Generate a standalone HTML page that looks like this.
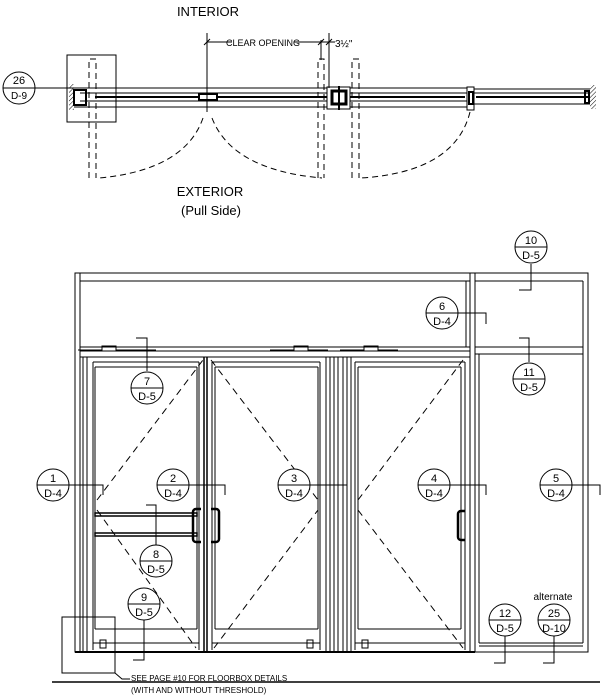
<!DOCTYPE html>
<html><head><meta charset="utf-8"><style>
html,body{margin:0;padding:0;background:#fff;}
svg{display:block;}
text{font-family:"Liberation Sans Narrow","Liberation Sans",sans-serif;fill:#000;}
</style></head><body>
<svg width="608" height="700" viewBox="0 0 608 700" xmlns="http://www.w3.org/2000/svg">
<defs>
<pattern id="h" width="3" height="3" patternUnits="userSpaceOnUse" patternTransform="rotate(45)"><line x1="0" y1="0" x2="0" y2="3" stroke="#000" stroke-width="1"/></pattern>
</defs>
<g stroke="#000" fill="none" stroke-width="1">
<!-- PLAN -->
<text x="208" y="16" font-size="13" text-anchor="middle" stroke="none">INTERIOR</text>
<rect x="67" y="55" width="49" height="67"/>
<circle cx="19" cy="88" r="16"/><line x1="3" y1="88" x2="35" y2="88"/><line x1="35" y1="88" x2="80" y2="88"/>
<text x="19" y="84" font-size="11" text-anchor="middle" stroke="none">26</text>
<text x="19" y="99" font-size="10" text-anchor="middle" stroke="none">D-9</text>
<rect x="69" y="84" width="5" height="26" fill="url(#h)" stroke="none"/>
<line x1="74" y1="88" x2="467" y2="88"/><line x1="74" y1="107" x2="467" y2="107"/>
<line x1="80" y1="93" x2="467" y2="93"/><line x1="80" y1="101" x2="467" y2="101"/>
<line x1="95" y1="97" x2="465" y2="97" stroke-width="2"/>
<rect x="74" y="90" width="12" height="15" stroke-width="2"/>
<rect x="199" y="94" width="18" height="6" fill="#fff" stroke-width="2"/>
<rect x="327" y="87" width="23" height="22" fill="#fff"/>
<rect x="332" y="91" width="14" height="13" stroke-width="3"/>
<line x1="339" y1="86" x2="339" y2="110" stroke-width="2"/>
<rect x="467" y="87" width="7" height="23" fill="#fff"/>
<rect x="469" y="92" width="4" height="12" stroke-width="2"/>
<line x1="474" y1="89" x2="590" y2="89"/><line x1="474" y1="104" x2="590" y2="104"/>
<line x1="474" y1="93" x2="590" y2="93"/>
<line x1="476" y1="97" x2="588" y2="97" stroke-width="2"/>
<rect x="585" y="91" width="4" height="12" stroke-width="2"/>
<rect x="590" y="85" width="6" height="24" fill="url(#h)" stroke="none"/>
<g stroke-dasharray="6,4">
<path d="M89 178 V59 H96 V178"/>
<path d="M318 178 V59 H324 V178"/>
<path d="M352 178 V59 H359 V178"/>
<path d="M203 118 Q185 170 99 178"/>
<path d="M212 118 Q232 170 322 178"/>
<path d="M470 112 Q455 172 361 178"/>
</g>
<line x1="207" y1="33" x2="207" y2="112"/>
<line x1="329" y1="33" x2="329" y2="88"/>
<line x1="321" y1="40" x2="321" y2="60"/>
<line x1="207" y1="42" x2="232" y2="42"/><line x1="294" y1="42" x2="321" y2="42"/>
<line x1="321" y1="42" x2="335" y2="42"/>
<line x1="204" y1="45" x2="210" y2="39"/><line x1="318" y1="45" x2="324" y2="39"/><line x1="326" y1="45" x2="332" y2="39"/>
<text x="263" y="46" font-size="9" text-anchor="middle" stroke="none">CLEAR OPENING</text>
<text x="335" y="47" font-size="10" stroke="none">3½"</text>
<text x="210" y="196" font-size="13" text-anchor="middle" stroke="none">EXTERIOR</text>
<text x="211" y="215" font-size="13" text-anchor="middle" stroke="none">(Pull Side)</text>

<!-- ELEVATION frame -->
<rect x="75" y="273" width="513" height="379"/>
<line x1="80" y1="273" x2="80" y2="652"/>
<line x1="80" y1="281" x2="470" y2="281"/>
<line x1="80" y1="347" x2="470" y2="347"/><line x1="80" y1="351" x2="470" y2="351"/>
<line x1="80" y1="357" x2="470" y2="357"/>
<line x1="470" y1="273" x2="470" y2="652"/><line x1="475" y1="273" x2="475" y2="652"/>
<line x1="475" y1="281" x2="583" y2="281"/>
<line x1="475" y1="347" x2="583" y2="347"/><line x1="475" y1="354" x2="583" y2="354"/>
<line x1="583" y1="281" x2="583" y2="643"/><line x1="479" y1="354" x2="479" y2="643"/>
<line x1="479" y1="643" x2="583" y2="643"/><line x1="479" y1="646" x2="583" y2="646"/>
<line x1="466" y1="281" x2="466" y2="347"/>
<line x1="75" y1="652" x2="475" y2="652" stroke-width="2"/>
<line x1="52" y1="682" x2="600" y2="682" stroke-width="1.5"/>
<path d="M78 350 h24 v-4 h14 v4 h40" /><path d="M270 350 h24 v-4 h14 v4 h20"/>
<path d="M340 350 h24 v-4 h14 v4 h20"/>
<!-- left pair -->
<line x1="83" y1="357" x2="83" y2="652"/><line x1="87" y1="357" x2="87" y2="652"/>
<line x1="93" y1="362" x2="93" y2="650"/><line x1="95" y1="367" x2="95" y2="629"/>
<line x1="95" y1="367" x2="197" y2="367"/><line x1="95" y1="629" x2="197" y2="629"/>
<line x1="93" y1="362" x2="199" y2="362"/>
<line x1="197" y1="367" x2="197" y2="629"/><line x1="199" y1="362" x2="199" y2="650"/>
<line x1="204" y1="357" x2="204" y2="652" stroke-width="1.5"/><line x1="207" y1="357" x2="207" y2="652" stroke-width="1.5"/>
<line x1="212" y1="362" x2="212" y2="650"/><line x1="215" y1="367" x2="215" y2="629"/>
<line x1="212" y1="362" x2="320" y2="362"/>
<line x1="215" y1="367" x2="318" y2="367"/><line x1="215" y1="629" x2="318" y2="629"/>
<line x1="318" y1="367" x2="318" y2="629"/><line x1="320" y1="362" x2="320" y2="650"/>
<line x1="326" y1="357" x2="326" y2="652"/><line x1="330" y1="357" x2="330" y2="652"/>
<line x1="334" y1="357" x2="334" y2="652"/><line x1="338" y1="357" x2="338" y2="652"/>
<line x1="343" y1="357" x2="343" y2="652"/><line x1="347" y1="357" x2="347" y2="652"/>
<line x1="351" y1="357" x2="351" y2="652"/>
<line x1="355" y1="362" x2="355" y2="650"/><line x1="358" y1="367" x2="358" y2="629"/>
<line x1="355" y1="362" x2="465" y2="362"/>
<line x1="358" y1="367" x2="461" y2="367"/><line x1="358" y1="629" x2="461" y2="629"/>
<line x1="461" y1="367" x2="461" y2="629"/><line x1="465" y1="362" x2="465" y2="650"/>
<line x1="93" y1="643" x2="199" y2="643"/><line x1="212" y1="643" x2="320" y2="643"/><line x1="355" y1="643" x2="465" y2="643"/>
<rect x="100" y="640" width="6" height="8"/><rect x="307" y="640" width="6" height="8"/><rect x="362" y="640" width="6" height="8"/>
<rect x="95" y="513" width="102" height="3" stroke-width="1.5"/><rect x="95" y="533" width="102" height="3" stroke-width="1.5"/>
<path d="M201 509 h-5 a3 3 0 0 0 -3 3 v27 a3 3 0 0 0 3 3 h5" stroke-width="2.5"/>
<path d="M211 509 h5 a3 3 0 0 1 3 3 v27 a3 3 0 0 1 -3 3 h-5" stroke-width="2.5"/>
<path d="M465 511 h-4 a3 3 0 0 0 -3 3 v23 a3 3 0 0 0 3 3 h4" stroke-width="2.5"/>
<g stroke-dasharray="7,5">
<path d="M97 500 L203 360"/>
<path d="M97 510 L196 648"/>
<path d="M211 360 L318 500"/><path d="M214 648 L318 510"/>
<path d="M358 500 L463 360"/><path d="M358 510 L463 648"/>
</g>
<rect x="62" y="617" width="53" height="56"/>
<path d="M115 673 L122 679 H130"/>
</g>
<g stroke="#000" fill="none" stroke-width="1">
<path d="M69 485 H103 V495"/><path d="M189 485 H225 V495"/><path d="M310 485 H347 V495"/>
<path d="M450 485 H486 V495"/><path d="M572 485 H600 V495"/>
<path d="M458 313 H486 V324"/>
<path d="M531 264 V290 H519"/><path d="M529 362 V338 H519"/>
<path d="M147 371 V338 H136"/>
<path d="M156 545 V505 H146"/>
<path d="M144 620 V660 H133"/>
<path d="M505 636 V663 H494"/><path d="M554 636 V663 H543"/>
</g>
<g stroke="#000" fill="#fff" stroke-width="1">
<circle cx="531" cy="247" r="16"/><circle cx="442" cy="313" r="16"/><circle cx="147" cy="388" r="16"/>
<circle cx="529" cy="379" r="16"/><circle cx="53" cy="485" r="16"/><circle cx="173" cy="485" r="16"/>
<circle cx="294" cy="485" r="16"/><circle cx="434" cy="485" r="16"/><circle cx="556" cy="485" r="16"/>
<circle cx="156" cy="561" r="16"/><circle cx="144" cy="604" r="16"/><circle cx="505" cy="620" r="16"/><circle cx="554" cy="620" r="16"/>
</g>
<g stroke="#000" stroke-width="1">
<line x1="515" y1="247" x2="547" y2="247"/><line x1="426" y1="313" x2="458" y2="313"/><line x1="131" y1="388" x2="163" y2="388"/>
<line x1="513" y1="379" x2="545" y2="379"/><line x1="37" y1="485" x2="69" y2="485"/><line x1="157" y1="485" x2="189" y2="485"/>
<line x1="278" y1="485" x2="310" y2="485"/><line x1="418" y1="485" x2="450" y2="485"/><line x1="540" y1="485" x2="572" y2="485"/>
<line x1="140" y1="561" x2="172" y2="561"/><line x1="128" y1="604" x2="160" y2="604"/><line x1="489" y1="620" x2="521" y2="620"/><line x1="538" y1="620" x2="570" y2="620"/>
</g>
<g font-size="11" text-anchor="middle">
<text x="531" y="244">10</text><text x="531" y="259">D-5</text>
<text x="442" y="310">6</text><text x="442" y="325">D-4</text>
<text x="147" y="385">7</text><text x="147" y="400">D-5</text>
<text x="529" y="376">11</text><text x="529" y="391">D-5</text>
<text x="53" y="482">1</text><text x="53" y="497">D-4</text>
<text x="173" y="482">2</text><text x="173" y="497">D-4</text>
<text x="294" y="482">3</text><text x="294" y="497">D-4</text>
<text x="434" y="482">4</text><text x="434" y="497">D-4</text>
<text x="556" y="482">5</text><text x="556" y="497">D-4</text>
<text x="156" y="558">8</text><text x="156" y="573">D-5</text>
<text x="144" y="601">9</text><text x="144" y="616">D-5</text>
<text x="505" y="617">12</text><text x="505" y="632">D-5</text>
<text x="554" y="617">25</text><text x="554" y="632">D-10</text>
<text x="553" y="600" font-size="10">alternate</text>
</g>
<text x="131" y="681" font-size="8">SEE PAGE #10 FOR FLOORBOX DETAILS</text>
<text x="131" y="693" font-size="8">(WITH AND WITHOUT THRESHOLD)</text>
</svg>
</body></html>
